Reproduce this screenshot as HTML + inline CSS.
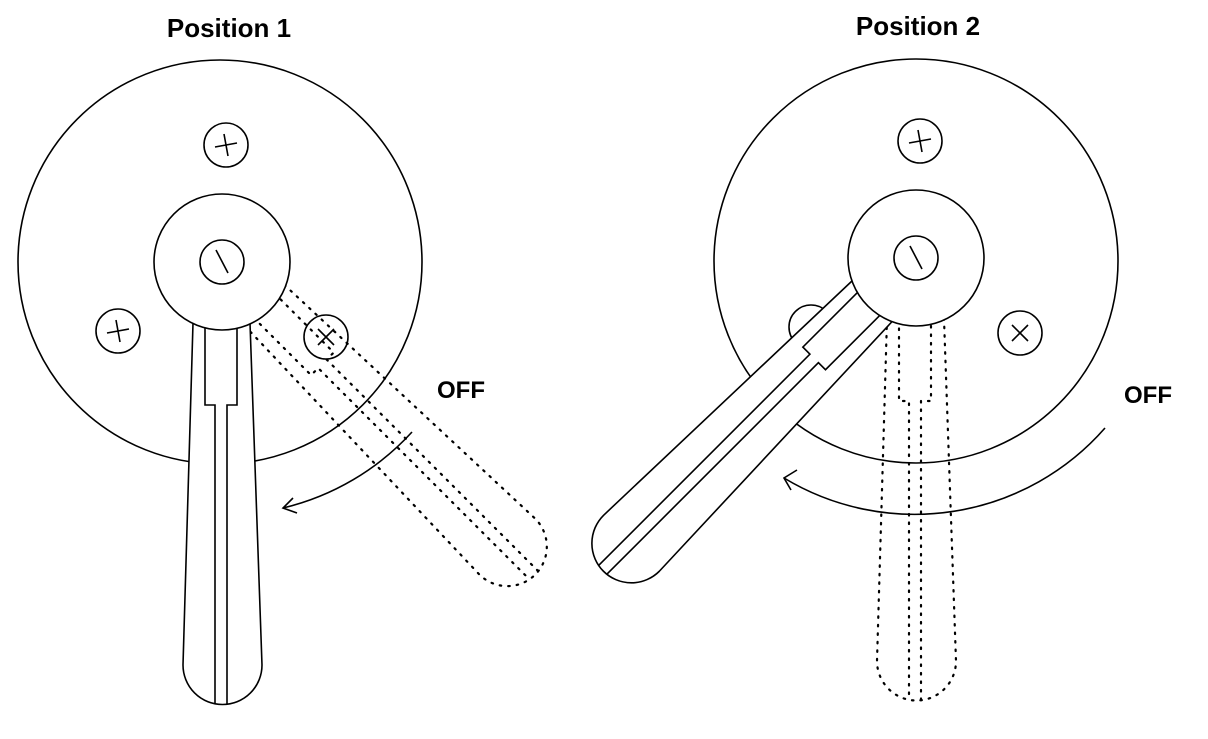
<!DOCTYPE html>
<html><head><meta charset="utf-8"><style>
html,body{margin:0;padding:0;background:#fff}
svg{display:block}
text{font-family:"Liberation Sans",Arial,sans-serif;font-weight:bold;fill:#000}
</style></head><body>
<svg width="1208" height="739" viewBox="0 0 1208 739" xmlns="http://www.w3.org/2000/svg">
<defs>
<g id="handle">
<path d="M -29 61 L -39 403 A 39.5 39.5 0 0 0 40 403 L 28 61 Z"/>
<path d="M -17 62 L -17 143 L -7 143 L -7 442 M 5 442 L 5 143 L 15 143 L 15 62" fill="none"/>
</g>
</defs>
<text x="229" y="37" font-size="26" text-anchor="middle">Position 1</text>
<text x="918" y="35" font-size="26" text-anchor="middle">Position 2</text>
<text x="437" y="398" font-size="24">OFF</text>
<text x="1124" y="403" font-size="24">OFF</text>

<g fill="none" stroke="#000" stroke-width="1.6">
<!-- Position 1 -->
<circle cx="220" cy="262" r="202"/>
<circle cx="226" cy="145" r="22"/>
<path d="M215 147 L237 143 M224 134 L228 156"/>
<circle cx="118" cy="331" r="22"/>
<path d="M107 333 L129 329 M116 320 L120 342"/>
<circle cx="326" cy="337" r="22"/>
<path d="M318 329 L334 345 M334 329 L318 345"/>
<g transform="translate(222,262) rotate(-45)" stroke-dasharray="1.5 7" stroke-linecap="round" stroke-width="2.2"><use href="#handle"/></g>
<g transform="translate(222,262)" fill="#fff"><use href="#handle"/></g>
<circle cx="222" cy="262" r="68" fill="#fff"/>
<circle cx="222" cy="262" r="22"/>
<path d="M216 250 L228 273"/>
<path d="M412 432 A255 255 0 0 1 283 508"/>
<path d="M293 498 L283 508 L297 513"/>

<!-- Position 2 -->
<circle cx="916" cy="261" r="202"/>
<circle cx="920" cy="141" r="22"/>
<path d="M909 143 L931 139 M918 130 L922 152"/>
<circle cx="1020" cy="333" r="22"/>
<path d="M1012 325 L1028 341 M1028 325 L1012 341"/>
<circle cx="811" cy="327" r="22"/>
<g transform="translate(916,258)" stroke-dasharray="1.5 7" stroke-linecap="round" stroke-width="2.2"><use href="#handle"/></g>
<path d="M1105 428 A253 253 0 0 1 784 478"/>
<path d="M797 470 L784 478 L791 490"/>
<g transform="translate(916,258) rotate(45)" fill="#fff"><use href="#handle"/></g>
<circle cx="916" cy="258" r="68" fill="#fff"/>
<circle cx="916" cy="258" r="22"/>
<path d="M910 246 L922 269"/>
</g>
</svg>
</body></html>
